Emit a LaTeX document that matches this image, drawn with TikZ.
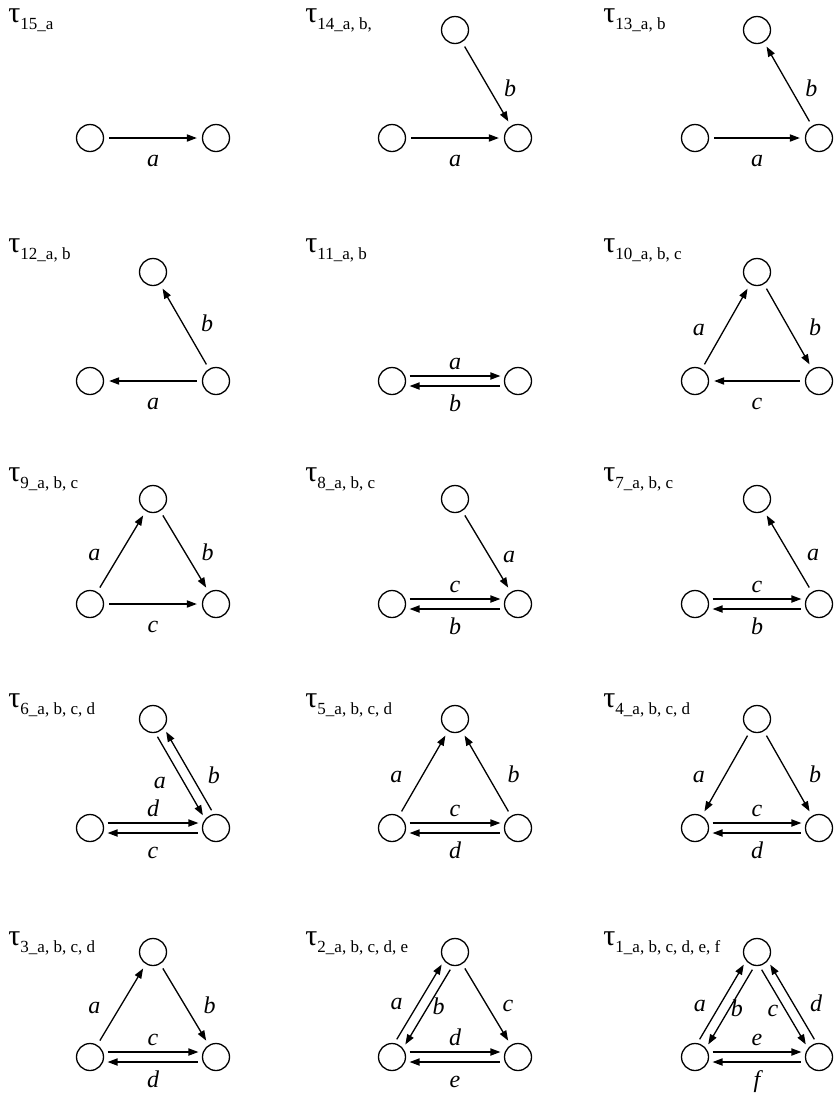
\documentclass[tikz,border=0pt]{standalone}
\usepackage{fontspec}
\setmainfont{Liberation Serif}
\usetikzlibrary{arrows.meta, calc}
\tikzstyle{vertex} = [circle, draw=black, line width=0.65pt, minimum size=13.5pt, inner sep=0pt]
\tikzstyle{arrow}  = [line width=0.65pt, ->, >={Triangle[length=5pt,width=3.6pt]}, shorten <=2.5pt, shorten >=2.5pt]
\tikzstyle{pair}   = [arrow, shorten <=8.8pt, shorten >=8.8pt]
\tikzstyle{lbl}    = [inner sep=0pt, font=\fontsize{12}{14}\selectfont\itshape, text height=1.5ex, text depth=0.5ex]
\tikzstyle{title}  = [anchor=base west, inner sep=0pt, font=\fontsize{15}{17}\selectfont]

\begin{document}
\begin{tikzpicture}[x=0.5pt, y=-0.5pt]
  \useasboundingbox (0,0) rectangle (839,1104);

  % row 1
  \node[title] (ttl15) at (8,22)   {τ\raisebox{-3.5pt}{\fontsize{8.5}{9}\selectfont 15\_a}};
  \node[title] (ttl14) at (305,22) {τ\raisebox{-3.5pt}{\fontsize{8.5}{9}\selectfont 14\_a, b,}};
  \node[title] (ttl13) at (603,22) {τ\raisebox{-3.5pt}{\fontsize{8.5}{9}\selectfont 13\_a, b}};
  \node[vertex] (l15) at (90,138)  {};
  \node[vertex] (r15) at (216,138) {};
  \node[vertex] (l14) at (392,138) {};
  \node[vertex] (r14) at (518,138) {};
  \node[vertex] (t14) at (455,30)  {};
  \node[vertex] (l13) at (695,138) {};
  \node[vertex] (r13) at (819,138) {};
  \node[vertex] (t13) at (757,30)  {};
  \draw[arrow] (l15) -- node[lbl, below=7pt] {a} (r15);
  \draw[arrow] (l14) -- node[lbl, below=7pt] {a} (r14);
  \draw[arrow] (t14) -- node[lbl, pos=0.6, right=6pt] {b} (r14);
  \draw[arrow] (l13) -- node[lbl, below=7pt] {a} (r13);
  \draw[arrow] (r13) -- node[lbl, pos=0.4, right=6pt] {b} (t13);

  % row 2
  \node[title] (ttl12) at (8,252)   {τ\raisebox{-3.5pt}{\fontsize{8.5}{9}\selectfont 12\_a, b}};
  \node[title] (ttl11) at (305,252) {τ\raisebox{-3.5pt}{\fontsize{8.5}{9}\selectfont 11\_a, b}};
  \node[title] (ttl10) at (603,252) {τ\raisebox{-3.5pt}{\fontsize{8.5}{9}\selectfont 10\_a, b, c}};
  \node[vertex] (l12) at (90,381)  {};
  \node[vertex] (r12) at (216,381) {};
  \node[vertex] (t12) at (153,272) {};
  \node[vertex] (l11) at (392,381) {};
  \node[vertex] (r11) at (518,381) {};
  \node[vertex] (l10) at (695,381) {};
  \node[vertex] (r10) at (819,381) {};
  \node[vertex] (t10) at (757,272) {};
  \draw[arrow] (r12) -- node[lbl, below=7pt] {a} (l12);
  \draw[arrow] (r12) -- node[lbl, pos=0.5, right=8pt] {b} (t12);
  \draw[pair] ($(l11)!2.5pt!90:(r11)$) -- node[lbl, above=0.5pt] {a} ($(r11)!2.5pt!-90:(l11)$);
  \draw[pair, <-] ($(l11)!2.5pt!-90:(r11)$) -- node[lbl, below=5.5pt] {b} ($(r11)!2.5pt!90:(l11)$);
  \draw[arrow] (l10) -- node[lbl, pos=0.45, left=9pt] {a} (t10);
  \draw[arrow] (t10) -- node[lbl, pos=0.55, right=9pt] {b} (r10);
  \draw[arrow] (r10) -- node[lbl, below=7pt] {c} (l10);

  % row 3
  \node[title] (ttl9) at (8,481)   {τ\raisebox{-3.5pt}{\fontsize{8.5}{9}\selectfont 9\_a, b, c}};
  \node[title] (ttl8) at (305,481) {τ\raisebox{-3.5pt}{\fontsize{8.5}{9}\selectfont 8\_a, b, c}};
  \node[title] (ttl7) at (603,481) {τ\raisebox{-3.5pt}{\fontsize{8.5}{9}\selectfont 7\_a, b, c}};
  \node[vertex] (l9) at (90,604)  {};
  \node[vertex] (r9) at (216,604) {};
  \node[vertex] (t9) at (153,499) {};
  \node[vertex] (l8) at (392,604) {};
  \node[vertex] (r8) at (518,604) {};
  \node[vertex] (t8) at (455,499) {};
  \node[vertex] (l7) at (695,604) {};
  \node[vertex] (r7) at (819,604) {};
  \node[vertex] (t7) at (757,499) {};
  \draw[arrow] (l9) -- node[lbl, pos=0.45, left=9pt] {a} (t9);
  \draw[arrow] (t9) -- node[lbl, pos=0.55, right=7pt] {b} (r9);
  \draw[arrow] (l9) -- node[lbl, below=7pt] {c} (r9);
  \draw[arrow] (t8) -- node[lbl, pos=0.58, right=6pt] {a} (r8);
  \draw[pair] ($(l8)!2.5pt!90:(r8)$) -- node[lbl, above=0.5pt] {c} ($(r8)!2.5pt!-90:(l8)$);
  \draw[pair, <-] ($(l8)!2.5pt!-90:(r8)$) -- node[lbl, below=5.5pt] {b} ($(r8)!2.5pt!90:(l8)$);
  \draw[arrow] (r7) -- node[lbl, pos=0.45, right=8pt] {a} (t7);
  \draw[pair] ($(l7)!2.5pt!90:(r7)$) -- node[lbl, above=0.5pt] {c} ($(r7)!2.5pt!-90:(l7)$);
  \draw[pair, <-] ($(l7)!2.5pt!-90:(r7)$) -- node[lbl, below=5.5pt] {b} ($(r7)!2.5pt!90:(l7)$);

  % row 4
  \node[title] (ttl6) at (8,707)   {τ\raisebox{-3.5pt}{\fontsize{8.5}{9}\selectfont 6\_a, b, c, d}};
  \node[title] (ttl5) at (305,707) {τ\raisebox{-3.5pt}{\fontsize{8.5}{9}\selectfont 5\_a, b, c, d}};
  \node[title] (ttl4) at (603,707) {τ\raisebox{-3.5pt}{\fontsize{8.5}{9}\selectfont 4\_a, b, c, d}};
  \node[vertex] (l6) at (90,828)  {};
  \node[vertex] (r6) at (216,828) {};
  \node[vertex] (t6) at (153,719) {};
  \node[vertex] (l5) at (392,828) {};
  \node[vertex] (r5) at (518,828) {};
  \node[vertex] (t5) at (455,719) {};
  \node[vertex] (l4) at (695,828) {};
  \node[vertex] (r4) at (819,828) {};
  \node[vertex] (t4) at (757,719) {};
  \draw[pair] ($(t6)!2.5pt!-90:(r6)$) -- node[lbl, pos=0.57, left=9pt] {a} ($(r6)!2.5pt!90:(t6)$);
  \draw[pair, <-] ($(t6)!2.5pt!90:(r6)$) -- node[lbl, pos=0.57, right=7pt] {b} ($(r6)!2.5pt!-90:(t6)$);
  \draw[pair] ($(l6)!2.5pt!90:(r6)$) -- node[lbl, above=0.5pt] {d} ($(r6)!2.5pt!-90:(l6)$);
  \draw[pair, <-] ($(l6)!2.5pt!-90:(r6)$) -- node[lbl, below=5.5pt] {c} ($(r6)!2.5pt!90:(l6)$);
  \draw[arrow] (l5) -- node[lbl, pos=0.45, left=9pt] {a} (t5);
  \draw[arrow] (r5) -- node[lbl, pos=0.45, right=9pt] {b} (t5);
  \draw[pair] ($(l5)!2.5pt!90:(r5)$) -- node[lbl, above=0.5pt] {c} ($(r5)!2.5pt!-90:(l5)$);
  \draw[pair, <-] ($(l5)!2.5pt!-90:(r5)$) -- node[lbl, below=5.5pt] {d} ($(r5)!2.5pt!90:(l5)$);
  \draw[arrow] (t4) -- node[lbl, pos=0.55, left=9pt] {a} (l4);
  \draw[arrow] (t4) -- node[lbl, pos=0.55, right=9pt] {b} (r4);
  \draw[pair] ($(l4)!2.5pt!90:(r4)$) -- node[lbl, above=0.5pt] {c} ($(r4)!2.5pt!-90:(l4)$);
  \draw[pair, <-] ($(l4)!2.5pt!-90:(r4)$) -- node[lbl, below=5.5pt] {d} ($(r4)!2.5pt!90:(l4)$);

  % row 5
  \node[title] (ttl3) at (8,945)   {τ\raisebox{-3.5pt}{\fontsize{8.5}{9}\selectfont 3\_a, b, c, d}};
  \node[title] (ttl2) at (305,945) {τ\raisebox{-3.5pt}{\fontsize{8.5}{9}\selectfont 2\_a, b, c, d, e}};
  \node[title] (ttl1) at (603,945) {τ\raisebox{-3.5pt}{\fontsize{8.5}{9}\selectfont 1\_a, b, c, d, e, f}};
  \node[vertex] (l3) at (90,1057)  {};
  \node[vertex] (r3) at (216,1057) {};
  \node[vertex] (t3) at (153,952)  {};
  \node[vertex] (l2) at (392,1057) {};
  \node[vertex] (r2) at (518,1057) {};
  \node[vertex] (t2) at (455,952)  {};
  \node[vertex] (l1) at (695,1057) {};
  \node[vertex] (r1) at (819,1057) {};
  \node[vertex] (t1) at (757,952)  {};
  \draw[arrow] (l3) -- node[lbl, pos=0.45, left=9pt] {a} (t3);
  \draw[arrow] (t3) -- node[lbl, pos=0.55, right=8pt] {b} (r3);
  \draw[pair] ($(l3)!2.5pt!90:(r3)$) -- node[lbl, above=0.5pt] {c} ($(r3)!2.5pt!-90:(l3)$);
  \draw[pair, <-] ($(l3)!2.5pt!-90:(r3)$) -- node[lbl, below=5.5pt] {d} ($(r3)!2.5pt!90:(l3)$);
  \draw[pair] ($(l2)!2.5pt!90:(t2)$) -- node[lbl, pos=0.47, left=7pt] {a} ($(t2)!2.5pt!-90:(l2)$);
  \draw[pair, <-] ($(l2)!2.5pt!-90:(t2)$) -- node[lbl, pos=0.47, right=3pt] {b} ($(t2)!2.5pt!90:(l2)$);
  \draw[arrow] (t2) -- node[lbl, pos=0.53, right=7pt] {c} (r2);
  \draw[pair] ($(l2)!2.5pt!90:(r2)$) -- node[lbl, above=0.5pt] {d} ($(r2)!2.5pt!-90:(l2)$);
  \draw[pair, <-] ($(l2)!2.5pt!-90:(r2)$) -- node[lbl, below=5.5pt] {e} ($(r2)!2.5pt!90:(l2)$);
  \draw[pair] ($(l1)!2.5pt!90:(t1)$) -- node[lbl, pos=0.45, left=6pt] {a} ($(t1)!2.5pt!-90:(l1)$);
  \draw[pair, <-] ($(l1)!2.5pt!-90:(t1)$) -- node[lbl, pos=0.45, right=1.5pt] {b} ($(t1)!2.5pt!90:(l1)$);
  \draw[pair] ($(t1)!2.5pt!-90:(r1)$) -- node[lbl, pos=0.55, left=4pt] {c} ($(r1)!2.5pt!90:(t1)$);
  \draw[pair, <-] ($(t1)!2.5pt!90:(r1)$) -- node[lbl, pos=0.55, right=7pt] {d} ($(r1)!2.5pt!-90:(t1)$);
  \draw[pair] ($(l1)!2.5pt!90:(r1)$) -- node[lbl, above=0.5pt] {e} ($(r1)!2.5pt!-90:(l1)$);
  \draw[pair, <-] ($(l1)!2.5pt!-90:(r1)$) -- node[lbl, below=5.5pt] {f} ($(r1)!2.5pt!90:(l1)$);
\end{tikzpicture}
\end{document}
